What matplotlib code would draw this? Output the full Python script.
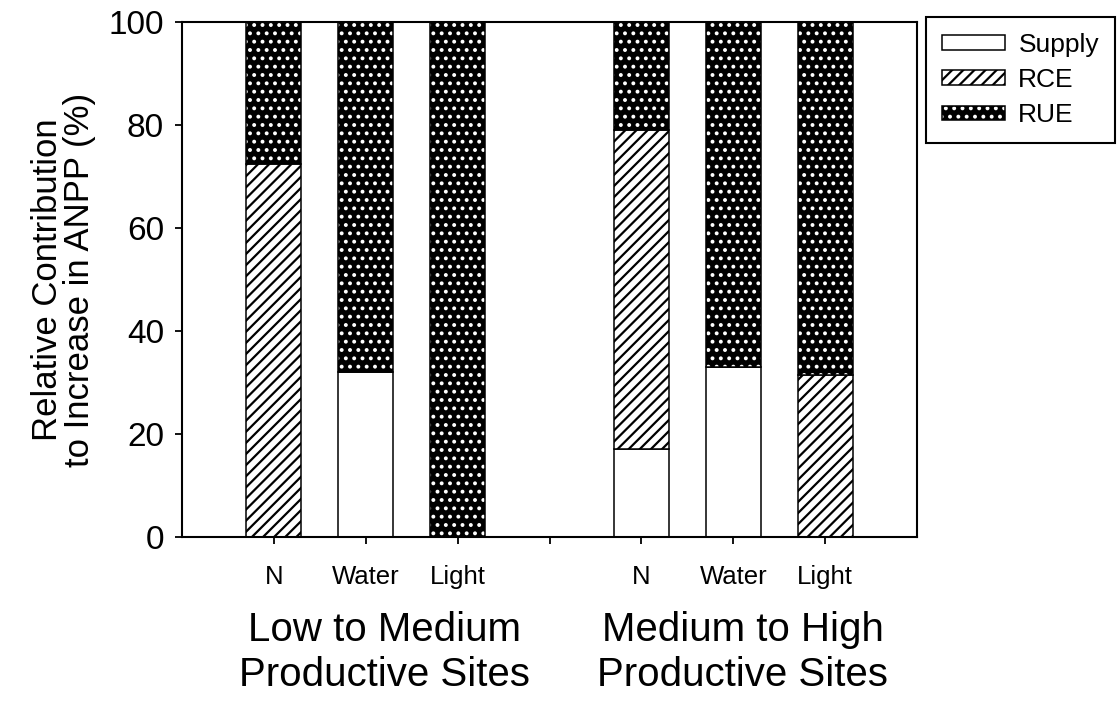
import numpy as np
import matplotlib
matplotlib.use("Agg")
import matplotlib.pyplot as plt
from matplotlib.patches import Patch
from matplotlib.legend_handler import HandlerTuple
import matplotlib.transforms as mtransforms

plt.rcParams['font.family'] = ['Liberation Sans', 'DejaVu Sans']
plt.rcParams['hatch.linewidth'] = 1.6

# values (% contribution)
tick_labels = ["N", "Water", "Light", "", "N", "Water", "Light"]
groups = ["Low to Medium\nProductive Sites", "Medium to High\nProductive Sites"]
supply = [0, 32, 0, 17, 33, 0]
rce = [72.5, 0, 0, 62, 0, 31.5]
rue = [27.5, 68, 100, 21, 67, 68.5]

x = np.array([1, 2, 3, 5, 6, 7])
supply = np.array(supply)
rce = np.array(rce)
rue = np.array(rue)
w = 0.6

fig = plt.figure(figsize=(11.19, 7.01), dpi=100)
ax = fig.add_axes([0.1626, 0.234, 0.657, 0.7346])

# supply
ax.bar(x, supply, w, color='white', edgecolor='black', linewidth=1.1)
# RCE (hatched)
ax.bar(x, rce, w, bottom=supply, color='white', edgecolor='black',
       hatch='///', linewidth=1.1)
# RUE: black with white dots, then black outline on top
ax.bar(x, rue, w, bottom=supply + rce, color='black', edgecolor='white',
       hatch='..', linewidth=0)
ax.bar(x, rue, w, bottom=supply + rce, fill=False, edgecolor='black',
       linewidth=1.1)

ax.set_xlim(0, 8)
ax.set_ylim(0, 100)
ax.set_yticks([0, 20, 40, 60, 80, 100])
ax.set_xticks(np.arange(1, 8))
ax.set_xticklabels(tick_labels)
ax.tick_params(axis='y', direction='out', length=5, width=1.3, labelsize=24, pad=8)
ax.tick_params(axis='x', direction='out', length=5, width=1.3, labelsize=18.5, pad=15)
for s in ax.spines.values():
    s.set_linewidth(1.5)

ax.set_ylabel("Relative Contribution\nto Increase in ANPP (%)", fontsize=25,
              linespacing=0.95, labelpad=9)

trans = mtransforms.blended_transform_factory(ax.transData, ax.transAxes)
ax.text(2.2, -0.224, groups[0], transform=trans, ha='center', va='center',
        fontsize=29, linespacing=1.22)
ax.text(6.1, -0.224, groups[1], transform=trans, ha='center', va='center',
        fontsize=29, linespacing=1.22)

h_supply = Patch(facecolor='white', edgecolor='black', linewidth=1.1)
h_rce = Patch(facecolor='white', edgecolor='black', hatch='///', linewidth=1.1)
h_rue = (Patch(facecolor='black', edgecolor='white', hatch='..', linewidth=0),
         Patch(fill=False, edgecolor='black', linewidth=1.1))
leg = ax.legend([h_supply, h_rce, h_rue], ["Supply", "RCE", "RUE"],
                handler_map={tuple: HandlerTuple(ndivide=1, pad=0)},
                loc='upper left', bbox_to_anchor=(926 / 1119, 1 - 17 / 701),
                bbox_transform=fig.transFigure, borderaxespad=0,
                fontsize=19, handlelength=2.4, handleheight=0.45,
                handletextpad=0.5, labelspacing=0.42, borderpad=0.6,
                fancybox=False, framealpha=1, edgecolor='black')
leg.get_frame().set_linewidth(1.5)

fig.savefig("out.png", dpi=100)
